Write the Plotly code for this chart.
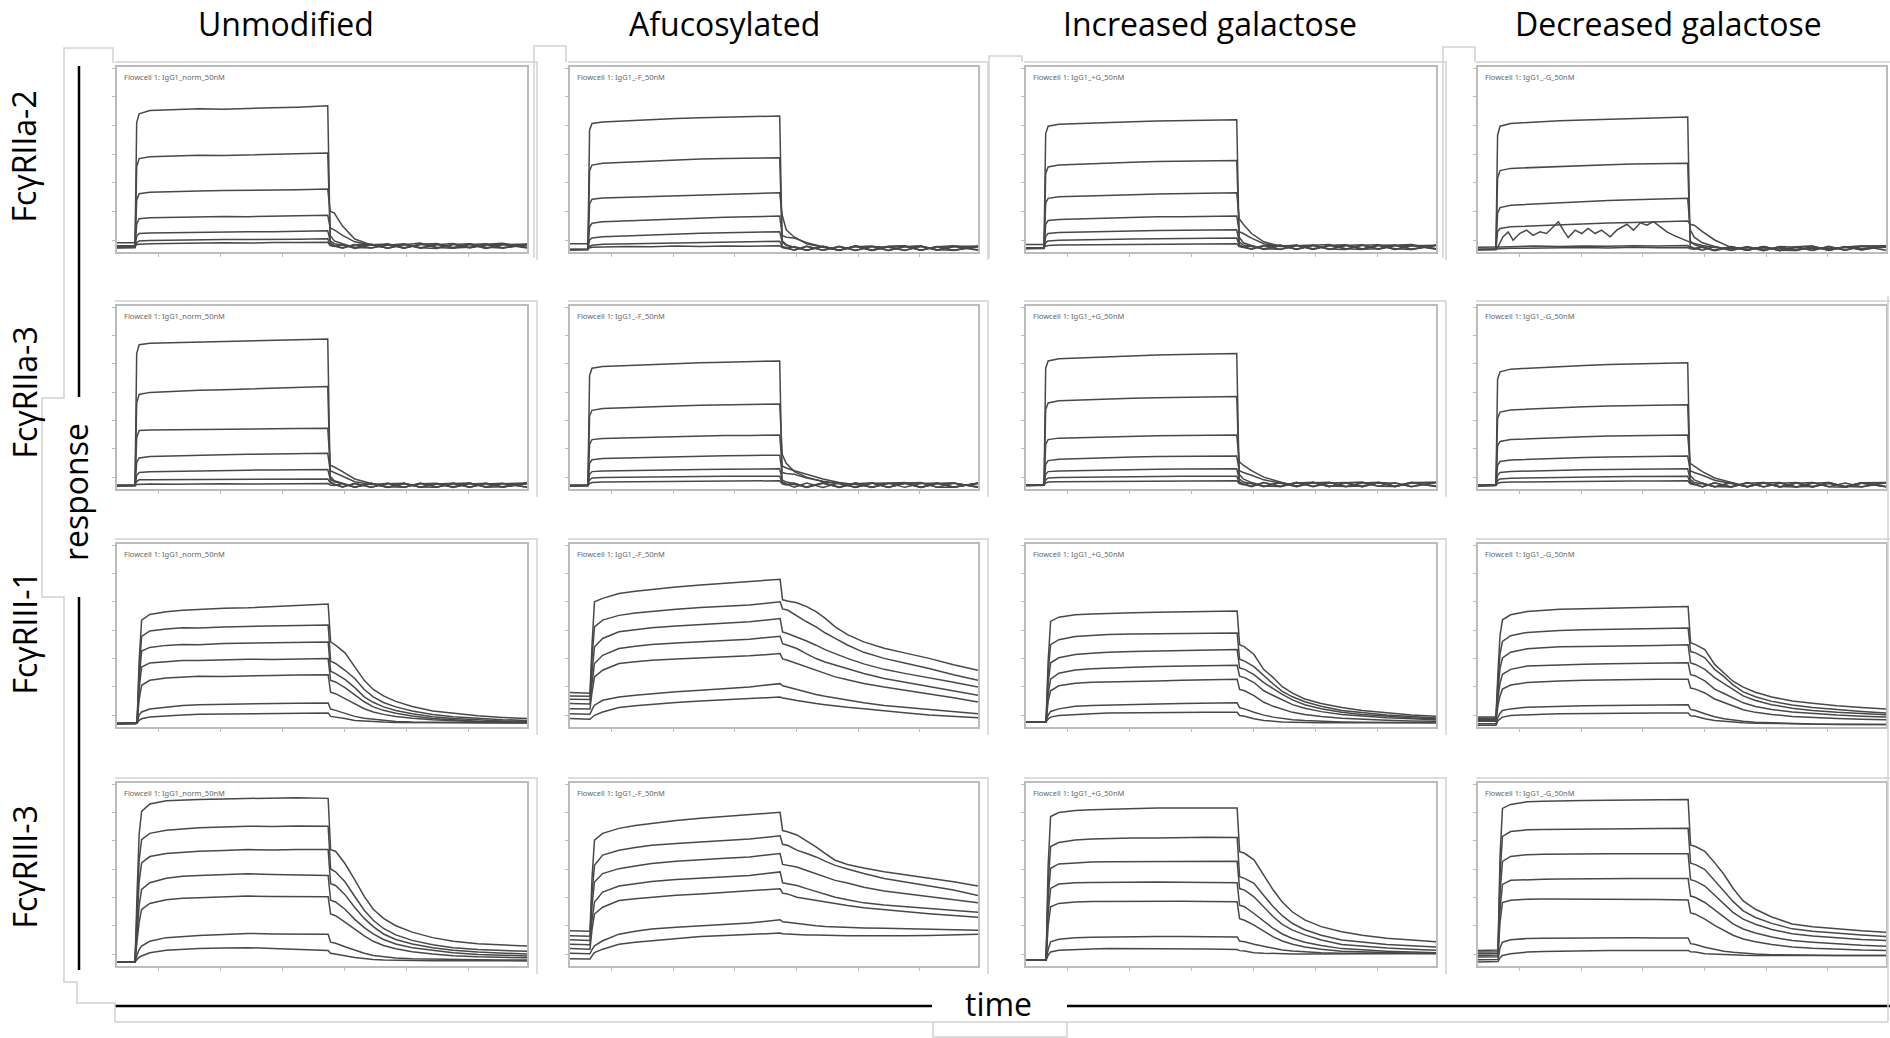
import plotly.graph_objects as go

W, H = 1890, 1038

# ---- labels -------------------------------------------------------------
COL_TITLES = ["Unmodified", "Afucosylated", "Increased galactose", "Decreased galactose"]
ROW_LABELS = ["FcγRIIa-2", "FcγRIIa-3", "FcγRIII-1", "FcγRIII-3"]
RUN_LABELS = [
    "Flowcell 1: IgG1_norm_50nM",
    "Flowcell 1: IgG1_-F_50nM",
    "Flowcell 1: IgG1_+G_50nM",
    "Flowcell 1: IgG1_-G_50nM",
]
Y_TITLE = "response"
X_TITLE = "time"

# ---- time grids (% of run length) ---------------------------------------
T_FAST = [0, 4.4, 4.8, 5.4, 8, 14, 20, 26, 32, 38, 44, 51.4,
          52.0, 53, 55, 58, 62, 66, 70, 74, 78, 82, 86, 90, 94, 100]
T_SLOW = [0, 4.4, 4.9, 5.4, 6, 8, 12, 16, 20, 26, 32, 38, 44, 51.5,
          52.1, 53.3, 55.6, 58, 60.3, 62.5, 65, 68, 72, 77, 82, 88, 94, 100]
T_JAG = [0, 4.4, 4.7, 6.1, 7.4, 8.6, 10.2, 11.9, 13.5, 15.2, 16.8, 18.4, 19.7, 20.9, 22.1,
         23.8, 25.4, 27.0, 28.7, 30.3, 32.4, 34.0, 36.5, 38.1, 39.8, 41.4, 43.0, 44.7, 46.3,
         48.0, 49.6, 51.2, 52.5, 55, 58, 62, 66, 70, 74, 78, 82, 86, 90, 94, 100]

# ---- responses (% of panel height), 7 concentrations per panel ----------
R1C1 = [
    [2.6, 2.8, 70.0, 74.7, 76.5, 77.0, 77.4, 77.2, 77.8, 78.0, 78.3, 79.0,
     5.0, 3.4, 2.3, 4.1, 2.2, 3.7, 4.4, 2.3, 3.9, 4.6, 2.5, 4.0, 2.2, 3.8],
    [3.0, 3.2, 46.0, 50.5, 51.5, 52.0, 52.3, 52.2, 52.6, 52.8, 53.0, 53.5,
     9.0, 6.0, 4.5, 2.4, 4.2, 2.1, 3.9, 4.8, 2.3, 4.1, 4.5, 2.0, 4.3, 2.6],
    [2.5, 2.7, 28.0, 31.5, 32.3, 32.8, 33.0, 33.2, 33.5, 33.4, 33.7, 34.0,
     22.0, 21.0, 14.0, 7.0, 3.8, 2.2, 4.2, 2.0, 4.0, 2.4, 4.4, 2.6, 2.1, 4.2],
    [2.4, 2.6, 15.0, 18.0, 18.5, 18.8, 19.0, 19.2, 19.1, 19.4, 19.5, 19.8,
     13.0, 12.0, 9.0, 5.5, 3.6, 4.1, 2.1, 4.3, 2.4, 2.0, 4.1, 4.4, 2.3, 4.0],
    [3.4, 3.5, 8.5, 10.0, 10.3, 10.5, 10.8, 10.6, 11.0, 10.9, 11.2, 11.5,
     6.0, 4.5, 3.7, 2.4, 2.1, 4.4, 2.3, 4.0, 4.6, 2.1, 2.6, 4.2, 4.7, 2.4],
    [2.2, 2.3, 5.0, 6.0, 6.2, 6.5, 6.6, 6.8, 6.7, 7.0, 6.9, 7.2,
     4.0, 3.2, 2.1, 3.9, 4.2, 2.0, 4.1, 2.3, 1.9, 4.2, 2.2, 3.8, 4.1, 2.1],
    [5.0, 5.0, 4.0, 4.2, 4.5, 4.7, 4.9, 5.0, 4.8, 5.2, 5.1, 5.3,
     3.5, 3.0, 4.0, 1.9, 3.9, 4.3, 2.1, 4.0, 4.4, 2.2, 4.1, 1.9, 3.9, 4.3],
]
R1C2 = [
    [1.3, 1.5, 66.0, 69.5, 70.3, 71.0, 71.8, 72.2, 72.6, 72.8, 73.0, 73.5,
     3.0, 2.0, 1.1, 3.0, 0.9, 2.8, 0.8, 3.0, 2.6, 0.9, 2.9, 1.1, 3.2, 2.7],
    [1.4, 1.5, 44.0, 47.0, 48.0, 48.6, 49.2, 49.8, 50.3, 50.5, 50.8, 51.0,
     6.0, 4.0, 2.5, 1.0, 3.1, 0.9, 2.9, 0.8, 2.7, 3.1, 0.9, 3.0, 1.0, 3.1],
    [1.2, 1.4, 26.0, 28.5, 29.2, 29.6, 30.2, 30.5, 31.0, 31.3, 31.6, 32.0,
     20.0, 12.0, 8.0, 4.5, 2.5, 1.0, 3.2, 1.0, 3.0, 0.8, 3.1, 1.1, 2.8, 3.2],
    [1.3, 1.4, 13.5, 15.5, 16.3, 16.8, 17.5, 18.0, 18.5, 18.8, 19.0, 19.5,
     9.0, 8.0, 7.6, 5.0, 2.8, 0.9, 2.9, 3.3, 0.8, 2.8, 3.2, 0.9, 3.0, 1.0],
    [1.3, 1.5, 6.5, 7.6, 8.3, 8.8, 9.4, 9.8, 10.2, 10.4, 10.7, 11.0,
     5.5, 3.5, 2.5, 1.0, 3.0, 0.8, 3.3, 1.1, 3.1, 3.4, 1.0, 2.9, 0.8, 3.0],
    [1.2, 1.3, 3.0, 3.6, 4.2, 4.4, 4.8, 5.0, 5.2, 5.4, 5.5, 5.8,
     3.0, 2.2, 1.0, 3.2, 0.9, 3.1, 1.0, 3.0, 0.8, 2.8, 3.3, 1.2, 1.0, 3.1],
    [4.4, 4.4, 2.2, 2.5, 2.7, 3.0, 2.8, 3.2, 3.0, 3.3, 3.1, 3.4,
     2.4, 1.9, 3.0, 0.9, 3.1, 1.0, 3.3, 0.8, 2.9, 3.2, 1.0, 2.8, 3.4, 1.2],
]
R1C3 = [
    [2.0, 2.2, 64.0, 68.0, 69.0, 69.6, 70.2, 70.4, 70.8, 71.0, 71.2, 71.5,
     4.0, 2.8, 1.6, 3.6, 1.4, 3.4, 3.8, 1.5, 3.5, 3.9, 1.6, 3.6, 1.4, 3.7],
    [2.2, 2.4, 42.5, 46.0, 47.0, 47.6, 48.2, 48.5, 48.9, 49.1, 49.3, 49.5,
     8.0, 5.0, 3.5, 1.7, 3.8, 1.5, 3.6, 4.0, 1.6, 3.7, 3.9, 1.4, 3.6, 1.7],
    [2.0, 2.1, 26.5, 29.0, 29.8, 30.3, 30.8, 31.0, 31.4, 31.6, 31.8, 32.0,
     18.0, 15.0, 10.0, 5.5, 3.2, 1.6, 3.7, 1.4, 3.6, 1.6, 3.8, 1.8, 1.4, 3.7],
    [1.9, 2.1, 15.0, 17.0, 17.6, 18.0, 18.4, 18.7, 19.0, 19.1, 19.3, 19.5,
     11.0, 10.0, 7.5, 4.5, 3.0, 3.6, 1.4, 3.7, 1.7, 1.3, 3.6, 3.8, 1.6, 3.5],
    [2.3, 2.4, 8.5, 10.0, 10.5, 10.9, 11.2, 11.4, 11.6, 11.7, 11.9, 12.0,
     5.5, 3.8, 3.0, 1.8, 1.5, 3.7, 1.7, 3.5, 3.9, 1.5, 1.8, 3.7, 4.0, 1.7],
    [1.8, 1.9, 5.0, 6.0, 6.4, 6.7, 6.9, 7.0, 7.2, 7.3, 7.4, 7.5,
     3.5, 2.6, 1.5, 3.3, 3.6, 1.4, 3.5, 1.6, 1.3, 3.6, 1.5, 3.4, 3.5, 1.5],
    [4.0, 4.0, 3.0, 3.5, 3.8, 3.9, 4.0, 4.1, 4.3, 4.2, 4.4, 4.5,
     2.9, 2.4, 3.4, 1.3, 3.3, 3.6, 1.5, 3.4, 3.7, 1.6, 3.5, 1.4, 3.4, 3.6],
]
R1C4 = [
    [1.3, 1.5, 63.0, 68.0, 69.5, 70.3, 70.9, 71.4, 71.8, 72.2, 72.6, 73.0,
     3.0, 2.0, 1.0, 2.9, 0.8, 2.7, 0.7, 3.0, 2.5, 0.8, 2.8, 1.0, 3.2, 3.0],
    [1.4, 1.5, 40.0, 44.0, 45.2, 45.8, 46.4, 46.8, 47.2, 47.5, 47.7, 48.0,
     6.0, 4.0, 2.5, 1.0, 3.0, 0.9, 2.9, 0.7, 2.7, 3.1, 0.8, 2.8, 1.1, 3.2],
    [1.2, 1.4, 21.0, 24.0, 25.3, 26.0, 26.8, 27.3, 27.8, 28.2, 28.6, 29.0,
     12.0, 8.0, 5.0, 3.0, 1.0, 2.9, 0.9, 2.8, 0.8, 3.0, 1.1, 2.7, 3.3, 1.0],
    [1.3, 1.5, 11.0, 12.7, 13.6, 14.2, 14.8, 15.3, 15.7, 16.0, 16.3, 16.7,
     15.0, 14.5, 11.0, 6.5, 2.5, 1.0, 2.9, 0.8, 2.8, 1.0, 3.1, 0.9, 2.9, 3.4],
    [2.5, 2.5, 2.4, 2.7, 2.9, 3.2, 3.0, 3.3, 3.1, 3.4, 3.2, 3.5,
     2.4, 1.9, 3.0, 0.9, 3.0, 1.1, 2.7, 0.8, 2.9, 3.2, 1.0, 2.7, 3.1, 3.3],
    [1.3, 1.4, 1.6, 1.8, 2.0, 2.2, 2.1, 2.4, 2.2, 2.5, 2.3, 2.4,
     1.8, 1.5, 2.6, 0.7, 2.7, 0.9, 3.0, 1.0, 0.8, 2.8, 1.1, 2.9, 1.2, 3.3],
]
R1C4_JAG = [1.3, 1.4, 2.0, 8.2, 10.9, 6.4, 10.0, 11.8, 9.0, 10.9, 10.0, 13.6, 16.4, 11.8, 7.8,
            11.8, 10.0, 12.7, 10.0, 11.8, 8.2, 11.8, 15.0, 11.8, 15.8, 14.5, 16.4, 13.6, 10.9,
            9.0, 7.3, 6.0, 4.9, 3.5, 2.4, 1.8, 2.3, 1.6, 2.1, 1.5, 2.2, 1.9, 2.4, 1.7, 2.5]

R2C1 = [
    [1.8, 2.0, 74.0, 78.8, 79.6, 80.0, 80.4, 80.8, 81.0, 81.3, 81.6, 82.0,
     4.0, 2.6, 1.2, 3.0, 1.0, 2.9, 3.2, 1.1, 2.8, 0.9, 3.1, 1.2, 2.9, 3.3],
    [2.0, 2.1, 47.0, 51.7, 52.8, 53.5, 54.0, 54.3, 54.8, 55.2, 55.5, 56.0,
     7.0, 4.5, 3.2, 1.1, 2.9, 1.0, 3.1, 0.9, 2.8, 3.2, 1.1, 3.0, 1.0, 3.4],
    [1.7, 1.9, 28.0, 32.0, 32.3, 32.5, 32.6, 32.5, 32.8, 32.9, 33.0, 33.2,
     13.0, 12.0, 9.5, 5.5, 3.0, 1.0, 3.1, 0.9, 2.9, 1.2, 3.2, 1.0, 3.0, 1.1],
    [1.9, 2.0, 14.5, 17.0, 17.8, 18.2, 18.5, 18.7, 19.0, 19.1, 19.3, 19.5,
     10.0, 9.0, 7.0, 4.0, 2.4, 3.0, 0.9, 3.2, 1.1, 2.8, 0.9, 3.1, 1.2, 3.0],
    [1.6, 1.8, 7.5, 9.0, 9.4, 9.7, 10.0, 10.1, 10.3, 10.4, 10.5, 10.7,
     5.5, 4.0, 2.9, 1.0, 3.1, 0.8, 2.9, 1.1, 0.9, 3.0, 3.3, 1.0, 1.2, 3.1],
    [2.1, 2.2, 4.2, 5.0, 5.1, 5.2, 5.3, 5.2, 5.4, 5.3, 5.4, 5.5,
     3.4, 2.5, 1.0, 3.0, 0.9, 3.2, 1.0, 2.9, 3.1, 0.8, 2.8, 3.2, 1.0, 2.9],
    [1.8, 1.9, 2.4, 2.5, 2.7, 2.6, 2.8, 2.9, 2.7, 3.0, 2.9, 3.0,
     2.2, 1.9, 3.0, 1.0, 3.1, 1.2, 0.9, 3.0, 1.1, 3.2, 0.9, 2.8, 3.1, 1.0],
]
R2C2 = [
    [1.8, 2.0, 62.0, 66.0, 67.0, 67.6, 68.2, 68.6, 69.0, 69.3, 69.6, 70.0,
     4.0, 2.8, 2.4, 1.0, 3.2, 0.9, 2.9, 3.4, 1.0, 3.1, 0.8, 3.3, 1.1, 3.0],
    [2.0, 2.1, 40.0, 43.0, 44.0, 44.6, 45.0, 45.4, 45.8, 46.0, 46.2, 46.5,
     19.0, 14.0, 9.5, 6.5, 4.0, 2.8, 1.0, 3.3, 0.9, 3.0, 3.4, 1.0, 3.1, 1.2],
    [1.7, 1.9, 24.5, 27.0, 27.6, 28.0, 28.4, 28.7, 29.0, 29.2, 29.3, 29.5,
     12.6, 11.5, 10.0, 8.0, 5.5, 3.5, 2.5, 0.9, 3.2, 3.4, 0.9, 3.0, 3.3, 1.0],
    [1.9, 2.0, 14.0, 16.0, 16.6, 17.0, 17.4, 17.7, 18.0, 18.2, 18.3, 18.5,
     9.0, 8.5, 8.0, 6.0, 4.2, 3.0, 1.0, 3.2, 0.8, 3.1, 3.5, 1.0, 0.9, 3.2],
    [1.6, 1.8, 8.0, 9.5, 9.9, 10.2, 10.4, 10.6, 10.7, 10.8, 10.9, 11.0,
     5.0, 3.8, 3.0, 1.1, 3.4, 0.9, 3.2, 0.8, 3.0, 3.5, 1.0, 3.1, 0.9, 3.3],
    [2.1, 2.2, 5.0, 6.0, 6.3, 6.5, 6.6, 6.7, 6.8, 6.9, 6.9, 7.0,
     3.5, 2.7, 1.0, 3.3, 0.9, 3.4, 0.8, 3.1, 3.3, 0.9, 3.0, 3.3, 1.0, 3.1],
    [1.8, 1.9, 3.0, 3.5, 3.8, 3.9, 4.1, 4.2, 4.3, 4.3, 4.4, 4.5,
     2.8, 2.2, 3.2, 0.9, 3.1, 1.1, 3.4, 1.0, 3.0, 3.2, 0.8, 2.9, 3.3, 1.0],
]
R2C3 = [
    [2.0, 2.2, 66.0, 70.0, 71.2, 71.8, 72.4, 72.8, 73.2, 73.5, 73.7, 74.0,
     4.0, 2.8, 1.5, 3.6, 1.3, 3.3, 3.7, 1.4, 3.4, 1.2, 3.6, 3.2, 1.3, 3.5],
    [2.2, 2.3, 43.5, 47.0, 48.2, 48.8, 49.3, 49.6, 49.9, 50.1, 50.3, 50.5,
     8.0, 5.5, 3.5, 1.6, 1.3, 3.6, 1.5, 3.5, 1.3, 3.3, 3.7, 1.4, 3.4, 1.6],
    [1.9, 2.1, 24.5, 27.0, 27.8, 28.2, 28.6, 28.9, 29.1, 29.3, 29.4, 29.5,
     15.0, 13.0, 10.0, 6.5, 3.8, 1.6, 3.5, 1.4, 3.3, 1.3, 3.6, 1.5, 3.4, 1.4],
    [2.0, 2.2, 13.5, 15.5, 16.3, 16.8, 17.2, 17.5, 17.7, 17.8, 17.9, 18.0,
     10.0, 9.0, 7.5, 5.0, 3.2, 1.4, 3.6, 1.3, 3.4, 3.8, 1.5, 1.3, 3.5, 3.7],
    [2.3, 2.4, 8.0, 9.5, 9.9, 10.2, 10.5, 10.6, 10.8, 10.9, 10.9, 11.0,
     5.5, 3.8, 2.9, 1.5, 3.6, 1.3, 3.4, 3.7, 1.4, 1.6, 3.6, 1.2, 3.3, 3.5],
    [1.8, 2.0, 5.0, 6.0, 6.3, 6.5, 6.6, 6.7, 6.8, 6.9, 6.9, 7.0,
     3.5, 2.6, 1.3, 3.5, 1.5, 3.7, 1.3, 3.3, 3.6, 1.4, 3.4, 1.5, 3.7, 1.4],
    [2.1, 2.2, 3.2, 3.8, 4.0, 4.1, 4.2, 4.3, 4.3, 4.4, 4.4, 4.5,
     2.9, 2.4, 3.4, 1.3, 3.5, 1.5, 3.7, 1.6, 1.3, 3.6, 1.5, 3.4, 1.4, 3.5],
]
R2C4 = [
    [1.8, 2.0, 60.0, 64.0, 65.5, 66.3, 67.0, 67.5, 68.0, 68.3, 68.6, 69.0,
     4.0, 2.6, 1.2, 3.4, 1.0, 3.2, 3.6, 1.1, 3.3, 1.0, 3.5, 1.3, 1.1, 3.4],
    [2.0, 2.1, 38.5, 42.0, 43.2, 43.9, 44.5, 44.9, 45.3, 45.6, 45.8, 46.0,
     7.5, 5.0, 3.2, 1.4, 1.1, 3.4, 1.2, 3.3, 1.0, 3.1, 3.6, 1.1, 3.2, 1.3],
    [1.8, 2.0, 23.5, 26.0, 27.0, 27.6, 28.1, 28.5, 28.9, 29.1, 29.3, 29.5,
     14.0, 12.5, 9.5, 6.0, 3.5, 1.3, 3.2, 1.1, 3.4, 1.2, 3.0, 1.4, 3.3, 1.2],
    [1.9, 2.1, 13.0, 15.0, 15.8, 16.4, 16.9, 17.2, 17.5, 17.7, 17.9, 18.0,
     10.0, 9.0, 7.5, 4.8, 3.0, 1.2, 3.5, 1.1, 3.2, 3.6, 1.2, 1.0, 3.4, 3.6],
    [2.2, 2.3, 7.5, 9.0, 9.6, 10.0, 10.3, 10.5, 10.7, 10.8, 10.9, 11.0,
     5.2, 3.6, 2.8, 1.3, 3.5, 1.1, 3.3, 3.6, 1.2, 1.4, 3.5, 1.0, 3.1, 3.3],
    [1.7, 1.9, 4.6, 5.5, 5.9, 6.2, 6.4, 6.6, 6.7, 6.8, 6.9, 7.0,
     3.4, 2.5, 1.1, 3.4, 1.3, 3.6, 1.1, 3.2, 3.5, 1.2, 3.3, 1.3, 3.6, 1.2],
    [2.0, 2.1, 3.0, 3.5, 3.8, 4.0, 4.1, 4.2, 4.3, 4.4, 4.4, 4.5,
     2.8, 2.3, 3.3, 1.1, 3.4, 1.3, 3.6, 1.4, 1.1, 3.5, 1.3, 3.3, 1.2, 3.4],
]

R3C1 = [
    [2.0, 2.2, 2.4, 36.0, 58.4, 61.5, 63.0, 63.8, 64.4, 64.9, 65.1, 65.8, 66.3, 67.2,
     46.5, 44.7, 40.5, 32.5, 25.5, 20.5, 17.0, 14.0, 11.2, 8.8, 7.4, 6.1, 5.2, 4.6],
    [1.8, 2.0, 2.2, 30.0, 49.5, 52.5, 53.6, 54.2, 54.1, 54.7, 55.0, 55.3, 55.2, 55.7,
     36.0, 34.7, 31.0, 26.5, 20.5, 16.5, 13.4, 11.0, 8.8, 6.8, 5.6, 4.6, 4.0, 3.6],
    [1.9, 1.8, 2.1, 26.0, 41.5, 43.5, 44.6, 45.1, 45.0, 45.6, 45.9, 45.8, 46.2, 46.5,
     30.5, 29.2, 26.0, 21.5, 16.5, 13.5, 11.0, 9.0, 7.2, 5.6, 4.6, 3.8, 3.3, 3.1],
    [1.7, 1.9, 2.0, 21.0, 32.8, 35.0, 35.9, 36.4, 36.3, 36.7, 37.0, 36.9, 37.2, 37.4,
     25.5, 24.6, 21.5, 17.5, 13.8, 11.0, 9.1, 7.5, 6.0, 4.6, 3.8, 3.1, 2.8, 2.7],
    [1.8, 1.7, 2.1, 15.0, 22.8, 25.5, 26.8, 27.3, 27.7, 27.6, 28.1, 28.2, 28.4, 28.6,
     19.0, 18.2, 15.5, 12.8, 10.0, 8.2, 6.9, 5.8, 4.8, 4.0, 3.4, 2.9, 2.7, 2.6],
    [1.9, 2.0, 2.2, 6.5, 8.2, 9.8, 11.0, 11.8, 12.2, 12.5, 12.8, 12.7, 13.0, 13.1,
     9.8, 9.1, 7.6, 5.8, 4.8, 4.2, 3.5, 3.0, 2.7, 2.6, 2.4, 2.3, 2.2, 2.2],
    [2.0, 1.9, 2.1, 3.6, 4.5, 5.5, 6.2, 6.6, 7.0, 7.2, 7.4, 7.5, 7.6, 7.7,
     5.8, 5.5, 4.6, 3.6, 3.2, 3.0, 2.7, 2.5, 2.4, 2.3, 2.3, 2.2, 2.2, 2.2],
]
R3C2 = [
    [18.8, 18.8, 18.5, 45.0, 68.4, 70.3, 73.0, 74.2, 75.2, 76.5, 77.6, 78.6, 79.4, 80.7,
     69.5, 68.8, 67.9, 65.8, 63.0, 59.5, 54.7, 50.5, 46.5, 43.0, 40.5, 37.5, 34.0, 31.0],
    [17.0, 17.0, 16.8, 38.0, 54.7, 58.4, 61.0, 62.3, 63.3, 64.4, 65.3, 66.0, 66.6, 68.4,
     64.5, 63.9, 60.6, 57.5, 54.7, 51.5, 48.4, 44.8, 40.8, 37.5, 35.0, 32.0, 28.5, 25.5],
    [15.1, 15.1, 15.0, 30.0, 43.8, 48.4, 52.0, 53.2, 54.2, 55.2, 56.0, 56.8, 57.5, 59.3,
     52.0, 51.1, 49.3, 47.0, 44.7, 42.3, 40.1, 37.5, 34.5, 31.5, 29.3, 27.0, 24.5, 21.9],
    [12.8, 12.8, 12.6, 24.0, 34.7, 39.2, 42.9, 44.1, 45.1, 45.9, 46.5, 47.3, 48.0, 49.6,
     45.5, 44.7, 42.9, 40.0, 37.4, 35.5, 33.8, 31.8, 29.2, 26.5, 24.5, 22.5, 20.0, 17.3],
    [10.0, 10.0, 9.8, 19.0, 27.4, 31.0, 34.7, 35.7, 36.5, 37.2, 37.8, 38.4, 38.9, 40.1,
     37.2, 36.5, 34.7, 33.0, 31.0, 29.2, 27.4, 25.8, 23.8, 21.8, 20.2, 18.3, 16.0, 13.7],
    [7.3, 7.3, 7.0, 9.5, 11.9, 14.6, 16.4, 17.4, 18.2, 19.2, 20.1, 21.0, 21.9, 23.7,
     22.5, 21.9, 20.5, 19.0, 17.8, 16.8, 15.8, 14.5, 13.2, 11.8, 10.8, 9.6, 8.4, 7.3],
    [4.6, 4.6, 4.3, 5.2, 6.4, 8.2, 10.6, 11.6, 12.4, 13.4, 14.2, 14.9, 15.5, 16.4,
     15.8, 15.5, 14.5, 13.5, 12.8, 12.2, 11.5, 10.8, 10.0, 8.8, 7.8, 6.6, 5.8, 5.1],
]
R3C3 = [
    [2.7, 2.7, 3.0, 36.0, 57.7, 60.0, 61.3, 61.8, 62.2, 62.5, 62.7, 62.9, 63.1, 63.4,
     45.0, 43.8, 39.6, 31.4, 27.0, 22.0, 18.5, 15.3, 12.8, 10.6, 9.0, 7.6, 6.6, 5.9],
    [2.6, 2.7, 2.9, 30.0, 45.0, 47.7, 49.5, 50.0, 50.5, 50.8, 51.0, 51.2, 51.4, 51.4,
     37.0, 36.0, 33.0, 27.9, 23.5, 19.5, 16.5, 13.8, 11.3, 9.0, 7.8, 6.6, 5.7, 4.9],
    [2.7, 2.6, 2.8, 24.0, 35.1, 37.8, 39.6, 40.3, 40.9, 41.3, 41.6, 41.8, 42.0, 42.3,
     32.3, 31.5, 28.6, 24.3, 21.0, 17.8, 14.8, 12.2, 10.0, 8.0, 6.8, 5.8, 5.0, 4.5],
    [2.7, 2.8, 2.9, 18.0, 26.1, 29.4, 31.2, 31.8, 32.2, 32.6, 33.0, 33.2, 33.3, 33.7,
     27.8, 27.0, 24.3, 19.8, 17.2, 15.0, 12.2, 10.2, 8.4, 6.8, 5.9, 5.1, 4.5, 4.0],
    [2.7, 2.6, 2.8, 14.0, 19.8, 22.5, 23.9, 24.4, 24.7, 25.0, 25.2, 25.5, 25.8, 26.1,
     20.5, 19.8, 17.1, 13.5, 11.3, 9.7, 8.0, 6.8, 5.7, 4.8, 4.2, 3.7, 3.3, 3.1],
    [2.7, 2.7, 2.9, 6.5, 8.5, 9.9, 11.4, 11.8, 12.1, 12.4, 12.6, 12.8, 13.0, 13.2,
     10.5, 9.9, 8.1, 6.5, 5.4, 4.6, 4.0, 3.5, 3.1, 2.8, 2.6, 2.5, 2.4, 2.3],
    [2.7, 2.7, 2.9, 4.2, 5.4, 6.3, 7.0, 7.3, 7.6, 7.8, 7.9, 8.0, 8.1, 8.1,
     6.3, 5.9, 4.5, 3.6, 3.1, 2.8, 2.6, 2.4, 2.3, 2.3, 2.3, 2.3, 2.3, 2.3],
]
R3C4 = [
    [5.4, 5.4, 30.0, 50.0, 58.6, 61.3, 63.1, 63.8, 64.3, 64.6, 64.9, 65.2, 65.4, 65.8,
     46.0, 45.0, 42.3, 34.2, 29.5, 25.0, 21.8, 19.0, 16.4, 14.2, 13.0, 11.6, 10.7, 9.9],
    [4.8, 4.8, 25.0, 40.0, 46.8, 49.9, 51.7, 52.3, 52.8, 53.2, 53.5, 53.7, 53.9, 54.1,
     41.2, 40.5, 37.8, 31.5, 27.5, 23.0, 19.2, 16.5, 14.0, 12.0, 10.6, 9.4, 8.5, 7.7],
    [4.1, 4.1, 20.0, 32.0, 37.8, 40.9, 42.7, 43.3, 43.8, 44.0, 44.1, 44.3, 44.5, 44.9,
     35.0, 34.2, 31.5, 27.0, 23.8, 20.5, 17.0, 14.5, 12.2, 10.3, 9.0, 8.0, 7.3, 6.7],
    [3.6, 3.6, 16.0, 24.0, 28.8, 31.5, 33.3, 33.7, 34.0, 34.3, 34.6, 34.7, 34.8, 35.1,
     28.6, 27.9, 25.2, 20.7, 18.3, 16.0, 13.2, 11.2, 9.6, 8.2, 7.3, 6.5, 5.9, 5.4],
    [3.1, 3.1, 12.0, 17.0, 20.7, 22.9, 24.3, 24.8, 25.2, 25.5, 25.8, 25.9, 26.1, 26.1,
     21.3, 20.7, 18.6, 15.3, 13.4, 11.5, 9.4, 8.0, 6.8, 5.8, 5.2, 4.7, 4.3, 4.0],
    [1.8, 1.8, 5.5, 7.5, 9.0, 9.9, 10.8, 11.1, 11.4, 11.6, 11.7, 11.8, 11.9, 12.1,
     9.6, 9.0, 7.2, 5.6, 4.5, 3.8, 3.1, 2.6, 2.2, 1.9, 1.6, 1.5, 1.4, 1.3],
    [0.9, 0.9, 3.5, 4.6, 5.4, 6.3, 6.8, 7.0, 7.2, 7.4, 7.6, 7.7, 7.7, 7.7,
     6.1, 5.9, 4.5, 3.6, 3.1, 2.7, 2.3, 2.1, 1.9, 1.7, 1.5, 1.4, 1.3, 1.3],
]

R4C1 = [
    [2.2, 2.2, 40.0, 72.0, 84.5, 88.5, 90.3, 90.8, 91.0, 91.3, 91.5, 91.8, 92.0, 91.6,
     63.5, 62.7, 56.0, 47.0, 38.0, 31.0, 26.0, 22.0, 18.5, 15.5, 13.5, 12.2, 11.4, 10.9],
    [2.2, 2.3, 30.0, 58.0, 69.0, 72.5, 74.2, 75.0, 75.5, 75.9, 76.4, 76.2, 76.5, 76.4,
     53.0, 51.5, 46.0, 38.0, 30.5, 25.0, 20.5, 17.0, 14.0, 11.6, 10.0, 9.0, 8.4, 8.0],
    [2.2, 2.2, 25.0, 46.0, 56.4, 59.8, 61.5, 62.2, 62.7, 63.1, 63.6, 63.4, 63.7, 63.6,
     45.0, 44.0, 39.0, 32.0, 26.0, 21.5, 17.5, 14.5, 12.0, 10.0, 8.6, 7.6, 7.0, 6.5],
    [2.1, 2.2, 18.0, 33.0, 41.8, 45.5, 48.0, 49.0, 49.5, 50.0, 50.4, 50.0, 49.8, 49.5,
     36.0, 35.0, 31.0, 25.5, 21.0, 17.5, 14.5, 12.0, 10.0, 8.4, 7.2, 6.3, 5.8, 5.5],
    [2.2, 2.1, 14.0, 24.0, 30.9, 34.2, 36.2, 37.0, 37.3, 37.8, 38.2, 38.0, 37.9, 37.8,
     28.5, 27.5, 24.0, 20.0, 16.5, 13.5, 11.2, 9.4, 7.8, 6.5, 5.6, 5.0, 4.7, 4.5],
    [2.2, 2.2, 6.0, 9.0, 10.9, 13.5, 15.5, 16.2, 16.7, 17.2, 17.8, 17.5, 17.4, 17.3,
     13.0, 12.4, 10.5, 8.5, 7.0, 5.8, 5.0, 4.4, 4.0, 3.7, 3.5, 3.4, 3.3, 3.3],
    [2.2, 2.2, 3.5, 4.8, 5.5, 7.2, 8.6, 9.2, 9.5, 9.8, 10.0, 9.6, 9.0, 8.5,
     7.0, 6.6, 5.6, 4.6, 4.0, 3.6, 3.3, 3.1, 3.0, 2.9, 2.9, 2.8, 2.8, 2.8],
]
R4C2 = [
    [19.3, 19.3, 19.0, 48.0, 68.8, 72.5, 75.2, 76.8, 78.0, 79.5, 80.7, 81.7, 82.6, 84.0,
     74.0, 73.4, 71.6, 68.5, 65.1, 61.5, 57.8, 55.5, 53.5, 51.5, 50.0, 48.0, 46.0, 43.7],
    [16.5, 16.5, 16.2, 40.0, 55.0, 60.6, 63.3, 64.8, 66.0, 67.0, 67.9, 68.7, 69.4, 71.2,
     66.5, 66.0, 63.3, 61.5, 59.6, 57.3, 55.0, 53.0, 50.5, 47.8, 46.0, 44.0, 41.5, 38.5],
    [14.3, 14.3, 14.0, 33.0, 45.9, 50.5, 53.2, 54.7, 56.0, 57.2, 58.2, 58.9, 59.6, 61.5,
     55.5, 55.0, 54.1, 52.2, 50.5, 48.7, 46.8, 45.3, 43.0, 41.0, 39.5, 37.8, 36.2, 34.5],
    [11.9, 11.9, 11.6, 25.0, 34.9, 40.4, 43.7, 45.0, 46.2, 47.2, 48.1, 48.8, 49.5, 51.4,
     45.5, 45.0, 44.0, 42.3, 40.7, 39.2, 37.6, 36.2, 34.5, 33.3, 32.5, 31.2, 30.2, 29.4],
    [9.5, 9.5, 9.2, 20.0, 28.4, 32.1, 35.8, 36.8, 37.6, 38.6, 39.4, 40.2, 40.9, 42.2,
     39.8, 39.4, 37.6, 36.7, 35.8, 34.9, 33.9, 33.0, 31.8, 30.6, 29.8, 28.6, 27.6, 26.6],
    [7.0, 7.0, 6.7, 9.0, 11.0, 13.8, 17.4, 19.0, 20.2, 21.2, 22.0, 22.8, 23.5, 25.3,
     24.2, 23.9, 23.2, 22.5, 22.0, 21.6, 21.3, 21.1, 20.8, 20.6, 20.4, 20.2, 19.9, 19.6],
    [4.0, 4.0, 3.8, 5.5, 7.3, 9.2, 11.9, 13.0, 13.8, 15.0, 16.1, 16.6, 17.1, 18.0,
     17.6, 17.4, 17.2, 17.0, 16.9, 16.7, 16.6, 16.5, 16.5, 16.4, 16.5, 16.7, 16.9, 17.4],
]
R4C3 = [
    [3.1, 3.1, 3.3, 55.0, 81.7, 83.9, 85.0, 85.4, 85.7, 86.0, 86.3, 86.4, 86.5, 86.3,
     62.5, 61.6, 58.0, 49.5, 41.5, 35.0, 29.5, 25.2, 21.5, 18.7, 16.8, 15.2, 14.2, 13.2],
    [3.1, 3.2, 3.3, 45.0, 65.3, 67.5, 68.9, 69.4, 69.7, 69.9, 70.0, 70.2, 70.4, 70.2,
     48.8, 47.9, 45.2, 38.5, 32.4, 27.5, 23.2, 19.8, 16.8, 14.2, 13.0, 11.8, 11.0, 10.4],
    [3.1, 3.1, 3.3, 37.0, 53.4, 55.8, 56.5, 56.8, 57.0, 57.1, 57.2, 57.3, 57.4, 57.2,
     42.3, 41.5, 37.8, 32.0, 26.9, 22.8, 19.6, 17.0, 14.2, 11.8, 10.8, 9.8, 9.1, 8.6],
    [3.1, 3.0, 3.2, 29.0, 42.4, 44.8, 45.5, 45.6, 45.7, 45.8, 45.9, 45.7, 45.5, 45.5,
     33.2, 32.4, 28.7, 24.5, 20.5, 17.5, 15.0, 13.0, 11.2, 9.5, 8.8, 8.1, 7.6, 7.3],
    [3.1, 3.1, 3.3, 22.0, 32.4, 34.2, 35.0, 35.2, 35.3, 35.4, 35.5, 35.4, 35.3, 35.1,
     25.8, 25.0, 22.3, 19.0, 15.9, 13.7, 11.9, 10.4, 9.1, 8.0, 7.6, 7.2, 7.0, 6.8],
    [3.1, 3.1, 3.2, 9.0, 13.2, 14.6, 15.5, 15.7, 15.9, 16.0, 16.1, 16.1, 16.1, 15.9,
     13.6, 13.2, 11.9, 10.7, 9.5, 8.7, 8.2, 7.7, 7.2, 7.0, 6.9, 6.8, 6.8, 6.8],
    [3.1, 3.1, 3.3, 5.8, 7.7, 8.6, 9.1, 9.3, 9.5, 9.5, 9.5, 9.4, 9.3, 9.0,
     8.4, 8.2, 7.3, 7.0, 6.8, 6.7, 6.6, 6.6, 6.6, 6.7, 6.7, 6.8, 6.8, 6.8],
]
R4C4 = [
    [8.5, 8.5, 8.7, 60.0, 86.1, 88.3, 89.7, 90.0, 90.3, 90.5, 90.6, 90.7, 90.8, 91.0,
     66.2, 65.3, 62.6, 56.5, 50.0, 42.5, 35.6, 31.0, 26.8, 23.0, 21.5, 20.2, 19.2, 18.4],
    [7.6, 7.6, 7.8, 50.0, 70.8, 73.5, 74.4, 74.6, 74.7, 74.8, 74.9, 75.0, 75.1, 75.3,
     56.2, 55.4, 52.7, 46.8, 41.0, 35.3, 30.1, 26.5, 23.3, 20.3, 19.0, 17.8, 16.9, 16.1],
    [6.7, 6.7, 6.9, 40.0, 57.2, 59.9, 60.8, 61.0, 61.2, 61.3, 61.4, 61.4, 61.4, 61.4,
     47.2, 46.4, 43.7, 38.5, 33.8, 29.3, 25.6, 22.8, 20.0, 17.6, 16.4, 15.3, 14.5, 13.9],
    [5.8, 5.8, 6.0, 31.0, 44.6, 46.8, 47.3, 47.4, 47.5, 47.7, 47.8, 47.8, 47.8, 47.8,
     38.2, 37.4, 34.7, 30.5, 26.5, 23.0, 20.2, 18.0, 15.8, 13.9, 13.0, 12.0, 11.3, 10.8],
    [4.9, 4.9, 5.1, 24.0, 34.7, 35.9, 36.5, 36.6, 36.6, 36.5, 36.5, 36.4, 36.3, 36.1,
     29.0, 28.3, 25.6, 22.2, 19.3, 16.8, 14.8, 13.3, 11.8, 10.4, 9.7, 9.0, 8.7, 8.5],
    [3.4, 3.4, 3.6, 10.0, 13.0, 14.3, 15.0, 15.2, 15.3, 15.4, 15.5, 15.4, 15.3, 15.3,
     12.2, 11.7, 10.3, 9.1, 8.1, 7.5, 7.0, 6.6, 6.2, 6.0, 5.9, 5.8, 5.8, 5.8],
    [2.2, 2.2, 2.4, 4.5, 5.8, 6.7, 7.6, 7.9, 8.1, 8.3, 8.5, 8.5, 8.5, 8.5,
     7.8, 7.6, 6.7, 6.4, 6.1, 6.0, 5.9, 5.8, 5.8, 5.8, 5.8, 5.8, 5.8, 5.8],
]

PANELS = [
    [R1C1, R1C2, R1C3, R1C4],
    [R2C1, R2C2, R2C3, R2C4],
    [R3C1, R3C2, R3C3, R3C4],
    [R4C1, R4C2, R4C3, R4C4],
]
ROW_TIME = [T_FAST, T_FAST, T_SLOW, T_SLOW]

# ---- geometry (pixels in the 1890x1038 page) ----------------------------
COL_X = [(117, 527), (570, 978), (1026, 1436), (1478, 1886)]
ROW_Y = [(67, 252), (306, 489), (544, 727), (783, 966)]
COL_TITLE_X = [286, 724, 1210, 1668]
ROW_LABEL_Y = [157, 393, 633, 867]

FONT = "Open Sans, Lato, sans-serif"
CURVE = "#484848"
BOX = "#bcbcbc"
FRAME = "#d2d2d2"


def px(x):
    return x / W


def py(y):
    return 1 - y / H


def seg(x0, y0, x1, y1, color, width):
    return dict(type="line", xref="paper", yref="paper", x0=px(x0), y0=py(y0),
                x1=px(x1), y1=py(y1), line=dict(color=color, width=width))


def path(points, color, width):
    d = "M " + " L ".join(f"{px(x):.5f},{py(y):.5f}" for x, y in points)
    return dict(type="path", xref="paper", yref="paper", path=d,
                line=dict(color=color, width=width))


for r, row in enumerate(PANELS):
    for c, panel in enumerate(row):
        for k, curve in enumerate(panel):
            if len(curve) != len(ROW_TIME[r]):
                raise ValueError(f"panel R{r + 1}C{c + 1} curve {k + 1}: {len(curve)} values")
if len(R1C4_JAG) != len(T_JAG):
    raise ValueError("jagged curve length")

fig = go.Figure()
layout_axes = {}
annotations = []
shapes = []

n = 0
for r in range(4):
    y0, y1 = ROW_Y[r]
    for c in range(4):
        x0, x1 = COL_X[c]
        n += 1
        sfx = "" if n == 1 else str(n)
        common = dict(range=[0, 100], showgrid=False, zeroline=False, showline=True,
                      mirror=True, linecolor=BOX, linewidth=1.6, ticks="outside",
                      ticklen=3, tickwidth=1, tickcolor=BOX, showticklabels=False,
                      fixedrange=True, tickmode="linear")
        layout_axes["xaxis" + sfx] = dict(common, domain=[px(x0), px(x1)],
                                          anchor="y" + sfx, tick0=10.2, dtick=15.1)
        layout_axes["yaxis" + sfx] = dict(common, domain=[py(y1), py(y0)],
                                          anchor="x" + sfx, tick0=6.4, dtick=15.5)
        for curve in PANELS[r][c]:
            fig.add_trace(go.Scatter(x=ROW_TIME[r], y=curve, mode="lines",
                                     line=dict(color=CURVE, width=1.5),
                                     xaxis="x" + sfx, yaxis="y" + sfx,
                                     hoverinfo="skip", showlegend=False))
        if r == 0 and c == 3:
            fig.add_trace(go.Scatter(x=T_JAG, y=R1C4_JAG, mode="lines",
                                     line=dict(color=CURVE, width=1.5),
                                     xaxis="x" + sfx, yaxis="y" + sfx,
                                     hoverinfo="skip", showlegend=False))
        annotations.append(dict(text=RUN_LABELS[c], xref="paper", yref="paper",
                                x=px(x0 + 5), y=py(y0 + 3), xanchor="left", yanchor="top",
                                showarrow=False,
                                font=dict(family="Noto Sans, sans-serif", size=7.5,
                                          color="#666666")))
        # screenshot window edge
        shapes.append(path([(x0 - 2, y0 - 5), (x1 + 10, y0 - 5), (x1 + 10, y1 + 8)],
                           FRAME, 1.5))

for c, title in enumerate(COL_TITLES):
    annotations.append(dict(text=title, xref="paper", yref="paper", x=px(COL_TITLE_X[c]),
                            y=1, xanchor="center", yanchor="top",
                            showarrow=False, font=dict(family=FONT, size=32, color="black")))

for r, label in enumerate(ROW_LABELS):
    annotations.append(dict(text=label, xref="paper", yref="paper", x=0,
                            y=py(ROW_LABEL_Y[r]), xanchor="left", yanchor="middle",
                            textangle=-90, showarrow=False,
                            font=dict(family=FONT, size=32, color="black")))

annotations.append(dict(text=Y_TITLE, xref="paper", yref="paper", x=px(75), y=py(492),
                        xanchor="center", yanchor="middle", textangle=-90, showarrow=False,
                        font=dict(family=FONT, size=32, color="black")))
annotations.append(dict(text=X_TITLE, xref="paper", yref="paper", x=px(998), y=py(1003),
                        xanchor="center", yanchor="middle", showarrow=False,
                        font=dict(family=FONT, size=32, color="black")))

# axis bars
shapes += [
    seg(79, 66, 79, 397, "black", 2.5),
    seg(79, 597, 79, 970, "black", 2.5),
    seg(115, 1006, 932, 1006, "black", 2.5),
    seg(1067, 1006, 1890, 1006, "black", 2.5),
]
# light outlines of the pasted panels
shapes += [
    path([(113, 63), (113, 48), (64, 48), (64, 398), (42, 398), (42, 597), (64, 597),
          (64, 982), (77, 982), (77, 1003), (115, 1003), (115, 1022), (1888, 1022)],
         FRAME, 1.5),
    path([(933, 1022), (933, 1037), (1067, 1037), (1067, 1022)], FRAME, 1.5),
    path([(534, 258), (534, 46), (566, 46), (566, 62)], FRAME, 1.5),
    path([(989, 258), (989, 56), (1022, 56), (1022, 62)], FRAME, 1.5),
    path([(1443, 258), (1443, 47), (1475, 47), (1475, 62)], FRAME, 1.5),
    seg(1888, 296, 1888, 1022, FRAME, 1.5),
]

fig.update_layout(
    width=W, height=H, autosize=False,
    margin=dict(l=0, r=0, t=0, b=0),
    paper_bgcolor="white", plot_bgcolor="white",
    showlegend=False, hovermode=False,
    annotations=annotations, shapes=shapes,
    **layout_axes,
)

# the page's default body margin would push the figure 8px right and down
fig.write_html("out.html", config={"displayModeBar": False},
               post_script="document.body.style.margin = '0';")
